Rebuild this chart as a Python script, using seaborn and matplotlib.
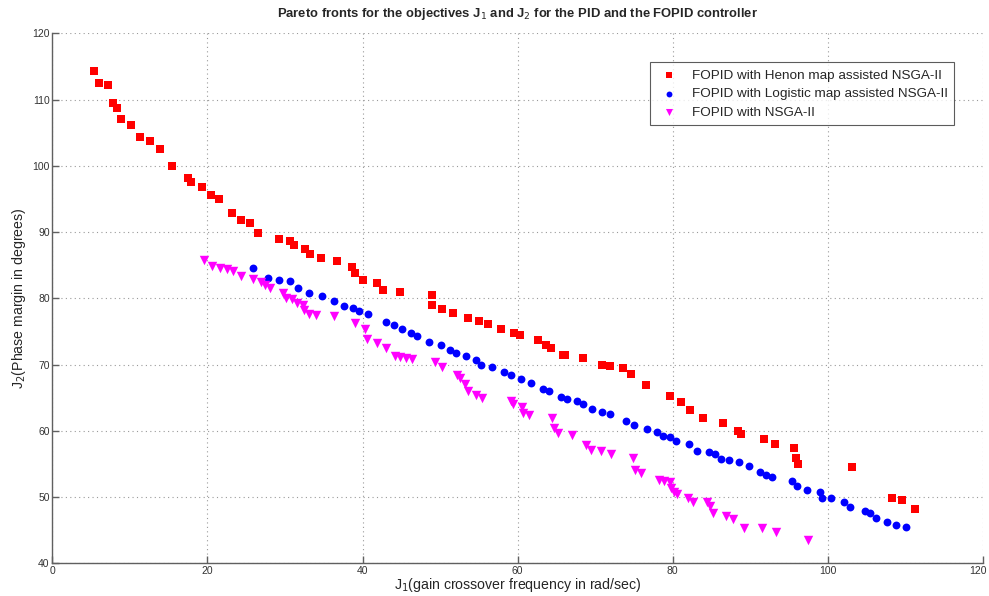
import matplotlib
matplotlib.use("Agg")
import matplotlib.pyplot as plt
import matplotlib.transforms as mtransforms
import seaborn as sns
import pandas as pd

# Henon map assisted NSGA-II (FOPID)
henon_j1 = [5.33, 6.06, 7.19, 7.83, 8.39, 8.81, 10.19, 11.32, 12.61, 13.90,
            15.39, 17.51, 17.81, 19.26, 20.43, 21.46, 23.14, 24.26, 25.46, 26.54,
            29.25, 30.58, 31.14, 32.52, 33.16, 34.65, 36.75, 38.62, 39.07, 40.04,
            41.85, 42.58, 44.77, 48.94, 48.94, 50.23, 51.72, 53.55, 55.03, 56.23,
            57.88, 59.52, 60.35, 62.58, 63.61, 64.30, 65.81, 66.15, 68.39, 70.88,
            71.91, 73.57, 74.58, 76.58, 79.68, 81.03, 82.28, 83.87, 86.45, 88.39,
            88.77, 91.78, 93.16, 95.65, 95.87, 96.17, 103.14, 108.30, 109.59, 111.26]
henon_j2 = [114.3, 112.56, 112.26, 109.43, 108.79, 107.06, 106.16, 104.35, 103.7, 102.49,
            99.92, 98.16, 97.62, 96.86, 95.59, 95.05, 92.88, 91.77, 91.43, 89.86,
            89.01, 88.65, 88.0, 87.47, 86.72, 86.16, 85.63, 84.75, 83.8, 82.84,
            82.38, 81.31, 80.88, 80.45, 79.05, 78.46, 77.78, 77.03, 76.57, 76.05,
            75.4, 74.76, 74.42, 73.66, 72.91, 72.56, 71.5, 71.5, 70.99, 69.89,
            69.78, 69.46, 68.57, 66.97, 65.25, 64.35, 63.2, 62.0, 61.24, 59.92,
            59.47, 58.72, 57.96, 57.36, 55.95, 54.94, 54.54, 49.86, 49.56, 48.26]

# Logistic map assisted NSGA-II (FOPID)
logistic_j1 = [25.81, 27.83, 29.20, 30.62, 31.61, 33.07, 34.75, 36.26, 37.55, 38.71,
               39.57, 40.68, 43.06, 44.00, 45.03, 46.19, 47.01, 48.58, 50.06, 51.25,
               52.00, 53.38, 54.58, 55.32, 56.68, 58.28, 59.10, 60.48, 61.77, 63.23,
               64.09, 65.59, 66.41, 67.61, 68.43, 69.64, 70.93, 71.91, 74.03, 74.97,
               76.65, 77.94, 78.71, 79.61, 80.43, 82.06, 83.19, 84.68, 85.42, 86.23,
               87.32, 88.61, 89.90, 91.23, 92.00, 92.77, 95.32, 96.00, 97.29, 99.01,
               99.26, 100.43, 102.15, 102.80, 104.86, 105.46, 106.23, 107.65, 108.86, 110.06]
logistic_j2 = [84.63, 83.12, 82.82, 82.61, 81.51, 80.86, 80.3, 79.55, 78.79, 78.54,
               78.14, 77.69, 76.38, 75.92, 75.4, 74.84, 74.38, 73.46, 73.01, 72.15,
               71.7, 71.29, 70.64, 69.99, 69.58, 68.94, 68.48, 67.82, 67.17, 66.37,
               65.96, 65.16, 64.8, 64.45, 64.0, 63.29, 62.9, 62.49, 61.54, 60.91,
               60.23, 59.82, 59.29, 59.06, 58.52, 57.96, 57.01, 56.8, 56.45, 55.8,
               55.59, 55.25, 54.64, 53.84, 53.39, 52.98, 52.38, 51.62, 51.02, 50.72,
               49.92, 49.86, 49.21, 48.56, 47.89, 47.59, 46.79, 46.29, 45.84, 45.54]

# Plain NSGA-II (FOPID)
nsga_j1 = [19.52, 20.55, 21.59, 22.54, 23.32, 24.35, 25.90, 26.93, 27.48, 28.04,
           29.68, 30.15, 30.84, 31.48, 32.30, 32.48, 33.12, 34.03, 36.26, 39.06,
           40.36, 40.62, 41.87, 43.03, 44.15, 44.77, 45.57, 46.39, 49.39, 50.28,
           52.13, 52.55, 53.26, 53.57, 54.68, 55.35, 59.19, 59.39, 60.52, 60.74,
           61.51, 64.48, 64.74, 65.25, 67.01, 68.77, 69.51, 70.80, 72.00, 74.84,
           75.12, 75.87, 78.19, 78.88, 79.65, 79.83, 80.17, 80.52, 81.97, 82.62,
           84.48, 84.77, 85.25, 86.88, 87.78, 89.16, 91.57, 93.29, 97.46]
nsga_j2 = [85.74, 84.83, 84.6, 84.41, 84.11, 83.44, 82.87, 82.46, 81.96, 81.55,
           80.86, 80.11, 79.85, 79.25, 78.99, 78.23, 77.63, 77.43, 77.28, 76.27,
           75.31, 73.84, 73.24, 72.56, 71.28, 71.12, 70.99, 70.84, 70.38, 69.66,
           68.48, 68.03, 67.06, 65.99, 65.46, 65.01, 64.45, 64.0, 63.59, 62.64,
           62.45, 62.0, 60.42, 59.73, 59.32, 57.81, 57.1, 56.91, 56.51, 55.95,
           54.11, 53.69, 52.65, 52.38, 52.23, 51.43, 50.82, 50.42, 49.92, 49.31,
           49.25, 48.6, 47.59, 47.09, 46.64, 45.33, 45.33, 44.78, 43.58]

series_names = ["FOPID with Henon map assisted NSGA-II",
                "FOPID with Logistic map assisted NSGA-II",
                "FOPID with NSGA-II"]
x_ticks = [0, 20, 40, 60, 80, 100, 120]
y_ticks = [40, 50, 60, 70, 80, 90, 100, 110, 120]

df = pd.concat([
    pd.DataFrame({"J1": henon_j1, "J2": henon_j2, "method": series_names[0]}),
    pd.DataFrame({"J1": logistic_j1, "J2": logistic_j2, "method": series_names[1]}),
    pd.DataFrame({"J1": nsga_j1, "J2": nsga_j2, "method": series_names[2]}),
], ignore_index=True)

sns.set_style("white")
plt.rcParams["font.family"] = ["Liberation Sans", "DejaVu Sans"]

fig = plt.figure(figsize=(9.89, 5.96), dpi=100)
ax = fig.add_axes([0.0530, 0.0548, 0.9408, 0.8893])

palette = {series_names[0]: "#ff0000",
           series_names[1]: "#0000ff",
           series_names[2]: "#ff00ff"}
markers = {series_names[0]: "s",
           series_names[1]: "o",
           series_names[2]: "v"}
sizes = {series_names[0]: 36, series_names[1]: 32, series_names[2]: 46}

for name in series_names:
    sub = df[df["method"] == name]
    sns.scatterplot(data=sub, x="J1", y="J2", color=palette[name],
                    marker=markers[name], s=sizes[name], linewidth=0,
                    label=name, ax=ax, zorder=3)

ax.set_xlim(0, 120)
ax.set_ylim(40, 120)
ax.set_xticks(x_ticks)
ax.set_yticks(y_ticks)
ax.set_xticklabels([str(t) for t in x_ticks])
ax.set_yticklabels([str(t) for t in y_ticks])

ax.grid(True, linestyle=(0, (1, 3)), color="#9a9a9a", linewidth=0.8)
for side in ["top", "right"]:
    ax.spines[side].set_visible(False)
for side in ["left", "bottom"]:
    ax.spines[side].set_color("#606060")
    ax.spines[side].set_linewidth(1.0)

ax.tick_params(axis="both", direction="in", length=5, width=1.0,
               colors="#606060", labelcolor="#333333", labelsize=7.5, pad=2)
ax.tick_params(left=True, bottom=True)

# keep the last x tick label inside the figure edge
last = ax.get_xticklabels()[-1]
last.set_transform(last.get_transform() +
                   mtransforms.ScaledTranslation(-5 / 100, 0, fig.dpi_scale_trans))

ax.set_xlabel(r"J$_1$(gain crossover frequency in rad/sec)", fontsize=10.2, labelpad=0)
ax.set_ylabel(r"J$_2$(Phase margin in degrees)", fontsize=10.2, labelpad=3)
ax.set_title(r"Pareto fronts for the objectives J$_1$ and J$_2$ for the PID and the FOPID controller",
             fontsize=9.4, fontweight="bold", pad=12)

leg = ax.legend(loc="upper left", bbox_to_anchor=(0.642, 0.945), fontsize=9.7,
                frameon=True, fancybox=False, borderpad=0.5, handletextpad=0.8,
                labelspacing=0.45, markerscale=0.75, handlelength=1.8,
                borderaxespad=0)
leg.get_frame().set_edgecolor("#333333")
leg.get_frame().set_linewidth(0.8)

fig.savefig("out.png", dpi=100)
